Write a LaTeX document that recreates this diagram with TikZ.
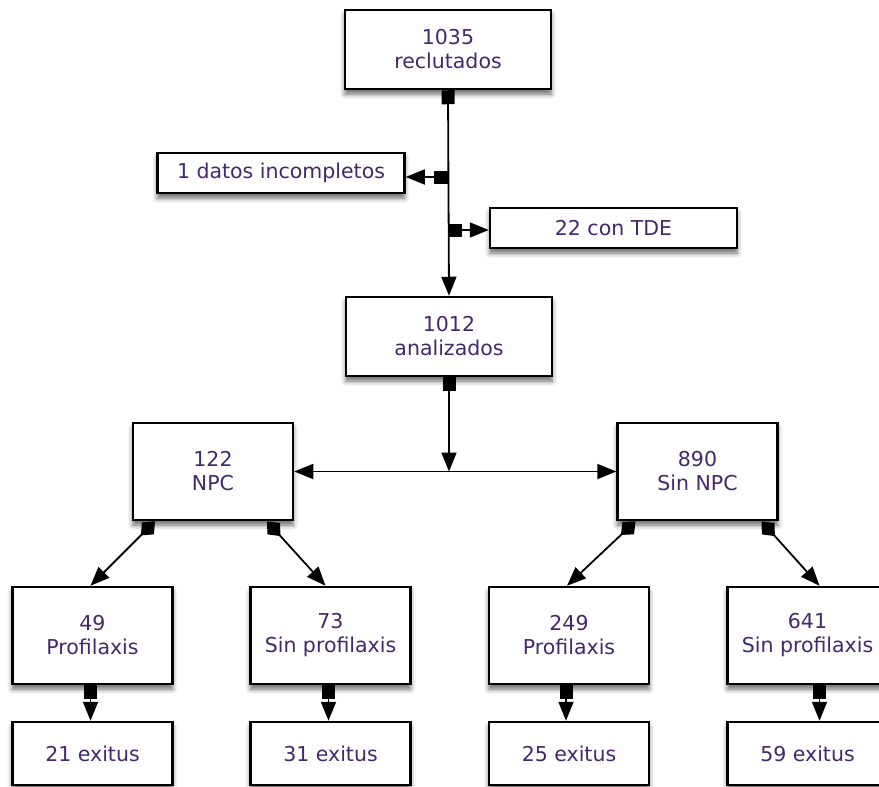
\documentclass[tikz,border=0pt]{standalone}
\usepackage{fontspec}
\setmainfont{DejaVu Sans}
\usepackage{tikz}
\usetikzlibrary{arrows.meta, shadows.blur}
\definecolor{labelpurple}{RGB}{68,40,108}
\tikzset{
    box/.style={rectangle, draw, line width=2.5pt, fill=white, text=labelpurple, align=center, font=\fontsize{20.5}{24}\selectfont, blur shadow={shadow xshift=0pt, shadow yshift=-5pt, shadow blur radius=5pt, shadow opacity=60}},
    bignode/.style={box, minimum width=206pt, minimum height=79pt},
    sidenode/.style={box, minimum width=247pt, minimum height=40pt},
    groupnode/.style={box, minimum width=160pt, minimum height=97pt},
    exitnode/.style={box, minimum width=160pt, minimum height=63pt},
    sqlink/.style={line width=1.8pt, {Square[length=14pt,width=13pt]}->},
    dmlink/.style={line width=1.8pt, {Diamond[length=20pt,width=17pt]}->},
    bothlink/.style={line width=1.8pt, <->}
}

\begin{document}
\begin{tikzpicture}[x=1pt, y=-1pt, >={Triangle[length=19pt,width=15pt]}]
  \clip (0,0) rectangle (879,787);
  \node[bignode] (rec) at (448,49.5) {1035\\reclutados};
  \node[sidenode] (inc) at (281,173) {1 datos incompletos};
  \node[sidenode] (tde) at (613.5,228) {22 con TDE};
  \node[bignode] (ana) at (449,336.5) {1012\\analizados};
  \node[groupnode] (npc) at (213,471.5) {122\\NPC};
  \node[groupnode] (sinnpc) at (697.5,471.5) {890\\Sin NPC};
  \node[groupnode] (p49) at (92.5,635.5) {49\\Profilaxis};
  \node[groupnode] (p73) at (330.5,635.5) {73\\Sin profilaxis};
  \node[groupnode] (p249) at (569,635.5) {249\\Profilaxis};
  \node[groupnode] (p641) at (807.5,635.5) {641\\Sin profilaxis};
  \node[exitnode] (e21) at (92.5,753.5) {21 exitus};
  \node[exitnode] (e31) at (330.5,753.5) {31 exitus};
  \node[exitnode] (e25) at (569,753.5) {25 exitus};
  \node[exitnode] (e59) at (807.5,753.5) {59 exitus};
  \coordinate (j1) at (448,177);
  \coordinate (j2) at (448,230);
  \coordinate (split) at (ana.south |- npc.east);
  \draw[sqlink] (rec.south) -- (ana.north);
  \draw[sqlink] (j1) -- (j1 -| inc.east);
  \draw[sqlink] (j2) -- (j2 -| tde.west);
  \draw[sqlink] (ana.south) -- (split);
  \draw[bothlink] (npc) -- (sinnpc);
  \draw[dmlink] ([xshift=-58pt]npc.south) -- ([xshift=-2pt]p49.north);
  \draw[dmlink] ([xshift=54pt]npc.south) -- ([xshift=-5pt]p73.north);
  \draw[dmlink] ([xshift=-62pt]sinnpc.south) -- ([xshift=-2pt]p249.north);
  \draw[dmlink] ([xshift=64pt]sinnpc.south) -- ([xshift=12pt]p641.north);
  \draw[sqlink] ([xshift=-2pt]p49.south) -- ([xshift=-2pt]e21.north);
  \draw[sqlink] ([xshift=-2pt]p73.south) -- ([xshift=-2pt]e31.north);
  \draw[sqlink] ([xshift=-3pt]p249.south) -- ([xshift=-3pt]e25.north);
  \draw[sqlink] ([xshift=12pt]p641.south) -- ([xshift=12pt]e59.north);
\end{tikzpicture}
\end{document}
